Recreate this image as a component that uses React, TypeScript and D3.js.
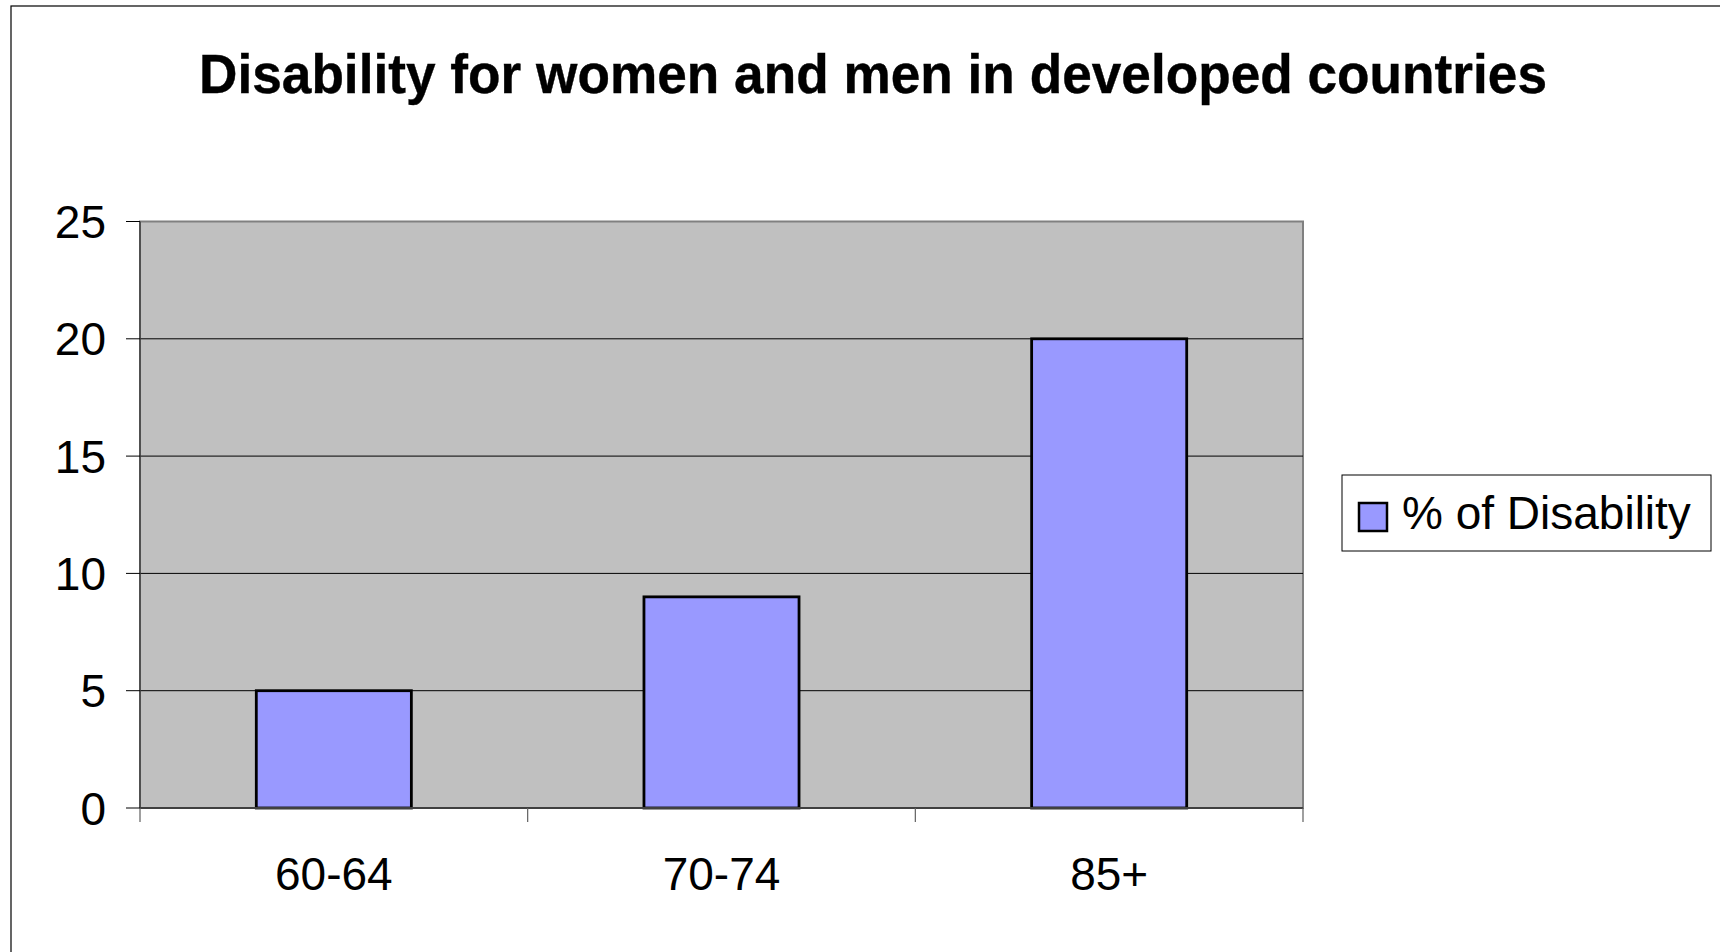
import React from "react";
import * as d3 from "d3";

const categories = ["60-64", "70-74", "85+"];
const values = [5, 9, 20];
const yTicks = [0, 5, 10, 15, 20, 25];
const seriesName = "% of Disability";
const title = "Disability for women and men in developed countries";

export default function App() {
  const W = 1720, H = 952;
  const left = 140, right = 1303, top = 221.5, bottom = 808;
  const x = d3.scaleBand<string>().domain(categories).range([left, right]).paddingInner(0.6).paddingOuter(0.3);
  const y = d3.scaleLinear().domain([0, 25]).range([bottom, top]);
  const step = (right - left) / categories.length;
  const boundaries = d3.range(categories.length + 1).map((i) => left + i * step);
  const font = "Liberation Sans, Arial, sans-serif";

  return (
    <svg width={W} height={H} style={{ position: "absolute", left: 0, top: 0, background: "#fff" }} fontFamily={font}>
      <rect x={11} y={6} width={W} height={H} fill="#fff" stroke="#000" strokeWidth={1.2} />
      <text x={873} y={93} textAnchor="middle" fontSize={55} fontWeight="bold" stroke="#000" strokeWidth={0.4} textLength={1348} lengthAdjust="spacingAndGlyphs">
        {title}
      </text>
      <rect x={left} y={top} width={right - left} height={bottom - top} fill="#C0C0C0" stroke="#808080" strokeWidth={2} />
      {yTicks.filter((t) => t > 0 && t < 25).map((t) => (
        <line key={t} x1={left} x2={right} y1={y(t)} y2={y(t)} stroke="#000" strokeWidth={1} />
      ))}
      {values.map((v, i) => (
        <rect key={i} x={x(categories[i])} y={y(v)} width={x.bandwidth()} height={y(0) - y(v)} fill="#9999FF" stroke="#000" strokeWidth={2.8} />
      ))}
      <line x1={left} x2={left} y1={top} y2={bottom} stroke="#404040" strokeWidth={1.5} />
      <line x1={left} x2={right} y1={bottom} y2={bottom} stroke="#404040" strokeWidth={2} />
      {yTicks.map((t) => (
        <g key={t}>
          <line x1={126} x2={left} y1={y(t)} y2={y(t)} stroke="#000" strokeWidth={1} />
          <text x={106} y={y(t)} dy="0.36em" textAnchor="end" fontSize={46}>{t}</text>
        </g>
      ))}
      {boundaries.map((b, i) => (
        <line key={i} x1={b} x2={b} y1={bottom} y2={822} stroke="#606060" strokeWidth={1.2} />
      ))}
      {categories.map((c) => (
        <text key={c} x={(x(c) as number) + x.bandwidth() / 2} y={890} textAnchor="middle" fontSize={46}>{c}</text>
      ))}
      <rect x={1342} y={475} width={369} height={76} fill="#fff" stroke="#000" strokeWidth={1} />
      <rect x={1359} y={503} width={28} height={28} fill="#9999FF" stroke="#000" strokeWidth={2.5} />
      <text x={1402} y={529} fontSize={46}>{seriesName}</text>
    </svg>
  );
}
